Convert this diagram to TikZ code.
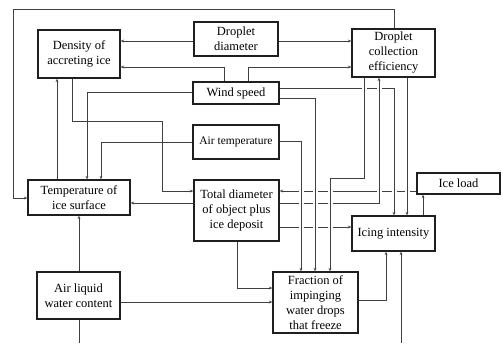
\documentclass[tikz,border=0pt]{standalone}
\usepackage{fontspec}
\setmainfont{Liberation Serif}
\usetikzlibrary{arrows.meta}
\begin{document}
\begin{tikzpicture}[x=1pt,y=-1pt,
  box/.style={draw=black!88, line width=1.3pt, rectangle, inner sep=0pt, align=center,
    font=\fontsize{12.5}{15}\selectfont},
  conn/.style={draw=black!75, line width=1pt, -{Stealth[length=3.5pt,width=2.8pt]}},
  plain/.style={draw=black!75, line width=1pt},
  hop/.style={preaction={draw=white, line width=5pt, -}}]
\useasboundingbox (0,0) rectangle (503,343);
% nodes
\node[box, minimum width=82pt, minimum height=48pt] (dens) at (79,54) {Density of\\accreting ice};
\node[box, minimum width=84pt, minimum height=34pt] (dd) at (236,39) {Droplet\\diameter};
\node[box, minimum width=83pt, minimum height=48pt] (dce) at (393.5,53) {Droplet\\collection\\efficiency};
\node[box, minimum width=86pt, minimum height=22pt] (ws) at (236,93) {Wind speed};
\node[box, minimum width=86pt, minimum height=34pt, font=\fontsize{11.5}{14}\selectfont] (at) at (236,142) {Air temperature};
\node[box, minimum width=85pt, minimum height=61pt] (td) at (236.5,210.5) {Total diameter\\of object plus\\ice deposit};
\node[box, minimum width=102pt, minimum height=35pt] (tis) at (79,197.5) {Temperature of\\ice surface};
\node[box, minimum width=83pt, minimum height=47pt] (alwc) at (78.5,295.5) {Air liquid\\water content};
\node[box, minimum width=85pt, minimum height=61pt] (fr) at (315.5,302.5) {Fraction of\\impinging\\water drops\\that freeze};
\node[box, minimum width=83pt, minimum height=35pt] (ii) at (393.5,233.5) {Icing intensity};
\node[box, minimum width=83pt, minimum height=21pt] (il) at (458.5,183.5) {Ice load};
\coordinate (bl) at (79,343);
\coordinate (br) at (401,343);
% left-side connectors
\draw[conn] (dd.west |- 0,41) -- (dens.east |- 0,41);
\draw[conn] (dd.east |- 0,41) -- (dce.west |- 0,41);
\draw[conn] (ws.north -| 224,0) |- (dens.east |- 0,67);
\draw[conn] (ws.north -| 248,0) |- (dce.west |- 0,67);
\draw[conn] (ws.west |- 0,92) -| (tis.north -| 87,0);
\draw[conn] (at.west |- 0,142) -| (tis.north -| 101,0);
\draw[conn] (tis.north -| 57,0) -- (dens.south -| 57,0);
\draw[conn] (dens.south -| 72,0) |- (162,121) |- (td.west |- 0,191);
\draw[conn] (td.west |- 0,203) -- (tis.east |- 0,203);
\draw[conn] (alwc.north -| 79,0) -- (tis.south -| 79,0);
\draw[conn] (alwc.east |- 0,302) -- (fr.west |- 0,302);
\draw[plain] (alwc.south -| bl) -- (bl);
\draw[conn] (br) -- (ii.south -| br);
\draw[conn] (td.south -| 237,0) |- (fr.west |- 0,288);
\draw[conn] (fr.east |- 0,300) -| (ii.south -| 386,0);
\draw[conn] (ii.north -| 423,0) -- (il.south -| 423,0);
\draw[conn] (dce.north -| 394,0) |- (13,9) |- (tis.west |- 0,198);
% right-side connectors with crossing gaps
\draw[conn] (il.west |- 0,191) -- (td.east |- 0,191);
\draw[conn] (td.east |- 0,227) -- (ii.west |- 0,227);
\draw[conn, hop] (ws.east |- 0,88) -| (ii.north -| 394,0);
\draw[conn, hop] (td.east |- 0,203) -| (dce.south -| 379,0);
\draw[conn, hop] (at.east |- 0,141) -| (fr.north -| 301,0);
\draw[conn, hop] (ws.east |- 0,98) -| (fr.north -| 315,0);
\draw[conn, hop] (dce.south -| 364,0) |- (330,178) -- (fr.north -| 330,0);
\draw[conn, hop] (dce.south -| 407,0) -- (ii.north -| 407,0);
\end{tikzpicture}
\end{document}
